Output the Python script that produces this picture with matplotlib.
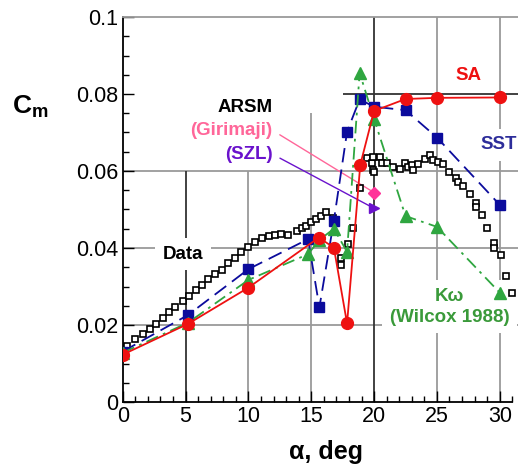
import numpy as np
import matplotlib
matplotlib.use("Agg")
import matplotlib.pyplot as plt
from matplotlib.ticker import FixedLocator, FixedFormatter

plt.rcParams['font.family'] = ['Liberation Sans', 'DejaVu Sans']
plt.rcParams['mathtext.fontset'] = 'custom'
plt.rcParams['mathtext.rm'] = 'Liberation Sans'
plt.rcParams['mathtext.bf'] = 'Liberation Sans:bold'

# experiment (open squares)
data_alpha = [0.0, 0.35, 1.0, 1.65, 2.2, 2.65, 3.2, 3.7, 4.2, 4.8, 5.3, 5.8, 6.3,
              6.8, 7.35, 7.9, 8.4, 8.95, 9.45, 10.0, 10.5, 11.05, 11.6, 12.1,
              12.6, 13.15, 13.85, 14.25, 14.6, 15.0, 15.4, 15.8, 16.2, 16.7,
              17.4, 17.4, 17.9, 18.35, 18.85, 19.45, 19.8, 19.9, 19.95, 20.0,
              20.45, 20.6, 21.0, 21.5, 22.05, 22.45, 22.7, 23.0, 23.1, 23.5,
              24.05, 24.45, 24.7, 25.1, 25.5, 26.0, 26.55, 26.65, 27.05, 27.6,
              28.1, 28.1, 28.6, 29.0, 29.55, 29.55, 30.1, 30.5, 30.95]
data_cm = [0.0130, 0.0146, 0.0164, 0.0176, 0.0189, 0.0202, 0.0219, 0.0233,
           0.0248, 0.0262, 0.0275, 0.0291, 0.0304, 0.0319, 0.0332, 0.0343,
           0.0360, 0.0375, 0.0390, 0.0403, 0.0415, 0.0425, 0.0432, 0.0435,
           0.0436, 0.0435, 0.0444, 0.0451, 0.0458, 0.0467, 0.0475, 0.0484,
           0.0493, 0.0479, 0.0373, 0.0356, 0.0410, 0.0451, 0.0555, 0.0633,
           0.0620, 0.0603, 0.0637, 0.0598, 0.0636, 0.0620, 0.0620, 0.0611,
           0.0604, 0.0620, 0.0611, 0.0616, 0.0603, 0.0617, 0.0630, 0.0642,
           0.0629, 0.0623, 0.0618, 0.0598, 0.0581, 0.0572, 0.0561, 0.0540,
           0.0518, 0.0506, 0.0486, 0.0453, 0.0412, 0.0399, 0.0382, 0.0327,
           0.0284]

# SA
sa_alpha = [0.0, 5.2, 10.0, 15.6, 16.8, 17.85, 18.9, 20.0, 22.5, 25.0, 30.0]
sa_cm = [0.0123, 0.0203, 0.0297, 0.0427, 0.0401, 0.0204, 0.0616, 0.0756,
         0.0787, 0.0790, 0.0791]

# SST
sst_alpha = [0.0, 5.2, 10.0, 14.75, 15.65, 16.8, 17.85, 18.85, 20.0, 22.5, 25.0, 30.0]
sst_cm = [0.0131, 0.0226, 0.0345, 0.0423, 0.0246, 0.0471, 0.0702, 0.0786,
          0.0767, 0.0758, 0.0687, 0.0512]

# K-omega (Wilcox 1988)
kw_alpha = [0.0, 5.2, 10.0, 14.75, 15.65, 16.8, 17.85, 18.85, 20.0, 22.5, 25.0, 30.0]
kw_cm = [0.0128, 0.0206, 0.0317, 0.0384, 0.0421, 0.0450, 0.0390, 0.0855,
         0.0735, 0.0483, 0.0455, 0.0284]

# ARSM single points
giri_alpha, giri_cm = [20.0], [0.0544]
szl_alpha, szl_cm = [20.0], [0.0503]

y_ticks = [0, 0.02, 0.04, 0.06, 0.08, 0.1]
y_labels = ['0', '0.02', '0.04', '0.06', '0.08', '0.1']
x_ticks = [0, 5, 10, 15, 20, 25, 30]

red = '#ee1111'
blue = '#0b0b9c'
green = '#2fa640'
pink = '#ff3399'
purple = '#6a12cc'
grey = '#9a9a9a'

fig = plt.figure(figsize=(5.18, 4.65), dpi=100)
ax = fig.add_axes([122.7 / 518, 63 / 465, (518 - 122.7) / 518, 385 / 465])
ax.set_xlim(0, 31.45)
ax.set_ylim(0, 0.1)

# partial grid lines
for y, x0, c in [(0.02, 0, grey), (0.04, 0, grey), (0.06, 0, grey), (0.08, 17.5, '#333333')]:
    ax.hlines(y, x0, 31.45, color=c, lw=1.3, zorder=0.5)
for x, y1, c in [(5, 0.06, '#333333'), (10, 0.06, grey), (15, 0.075, grey),
                 (20, 0.1, '#333333'), (25, 0.1, grey), (30, 0.1, grey)]:
    ax.vlines(x, 0, y1, color=c, lw=1.3, zorder=0.5)

ax.plot(data_alpha, data_cm, ls='none', marker='s', ms=4.5, mfc='white',
        mec='black', mew=1.2, zorder=4)
ax.plot(sst_alpha, sst_cm, color=blue, ls=(0, (8, 4)), lw=1.3, marker='s',
        ms=7, zorder=5)
ax.plot(kw_alpha, kw_cm, color=green, ls=(0, (7, 3, 1.5, 3)), lw=1.3,
        marker='^', ms=8, zorder=5)
ax.plot(sa_alpha, sa_cm, color=red, ls='-', lw=1.3, marker='o', ms=8.5, zorder=6)
ax.plot(giri_alpha, giri_cm, ls='none', marker='D', ms=6, color=pink, zorder=6)
ax.plot(szl_alpha, szl_cm, ls='none', marker='>', ms=7, color=purple, zorder=6)

box = dict(boxstyle='square,pad=0.4', fc='white', ec='none')
tk = dict(fontsize=13.5, fontweight='bold', zorder=2)
ax.text(27.5, 0.0849, 'SA', color=red, ha='center', va='center', bbox=box, **tk)
ax.text(31.4, 0.0668, 'SST', color='#2d2d9a', ha='right', va='center', bbox=box, **tk)
ax.text(26.0, 0.0247, 'Kω\n(Wilcox 1988)', color='#3a9a3a', ha='center',
        va='center', linespacing=1.3, bbox=box, **tk)
ax.text(4.8, 0.0384, 'Data', color='black', ha='center', va='center', bbox=box, **tk)
ax.text(11.9, 0.0766, 'ARSM', color='black', ha='right', va='center', **tk)
ax.annotate('(Girimaji)', xy=(giri_alpha[0], giri_cm[0]), xytext=(11.9, 0.0706),
            color='#ff6699', ha='right', va='center', fontsize=13.5,
            fontweight='bold', zorder=2,
            arrowprops=dict(arrowstyle='-', color='#ff6699', lw=1.0,
                            relpos=(1, 0.5), shrinkA=4, shrinkB=0))
ax.annotate('(SZL)', xy=(szl_alpha[0], szl_cm[0]), xytext=(11.9, 0.0644),
            color=purple, ha='right', va='center', fontsize=13.5,
            fontweight='bold', zorder=2,
            arrowprops=dict(arrowstyle='-', color=purple, lw=1.0,
                            relpos=(1, 0.5), shrinkA=4, shrinkB=0))

# axes and ticks
ax.spines['right'].set_visible(False)
ax.spines['top'].set_color(grey)
ax.spines['top'].set_linewidth(1.3)
ax.spines['bottom'].set_bounds(0, 31)
for s in ('left', 'bottom'):
    ax.spines[s].set_linewidth(1.3)
ax.xaxis.set_major_locator(FixedLocator(x_ticks))
ax.xaxis.set_minor_locator(FixedLocator(np.arange(0, 32, 1)))
ax.yaxis.set_major_locator(FixedLocator(y_ticks))
ax.yaxis.set_major_formatter(FixedFormatter(y_labels))
ax.yaxis.set_minor_locator(FixedLocator(np.arange(0, 0.1001, 0.005)))
ax.tick_params(which='both', direction='in', labelsize=15.5, width=1)
ax.tick_params(which='major', length=8, pad=3)
ax.tick_params(which='minor', length=4)

fig.text(326 / 518, 1 - 452 / 465, 'α, deg', ha='center', va='center',
         fontsize=18, fontweight='bold')
fig.text(12 / 518, 1 - 107 / 465, r'$\mathbf{C}_\mathbf{m}$', ha='left',
         va='center', fontsize=19)

fig.savefig('out.png', dpi=100)
